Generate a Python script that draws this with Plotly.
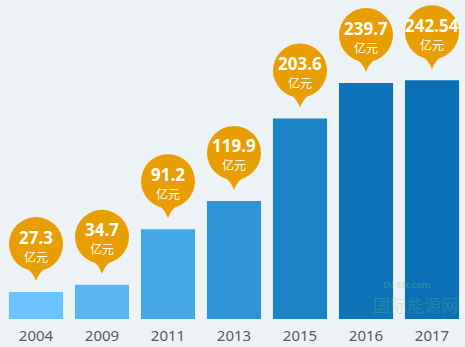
import plotly.graph_objects as go

# Annual market size (亿元)
years = ["2004", "2009", "2011", "2013", "2015", "2016", "2017"]
values = [27.3, 34.7, 91.2, 119.9, 203.6, 239.7, 242.54]
value_labels = ["27.3", "34.7", "91.2", "119.9", "203.6", "239.7", "242.54"]
unit_label = "亿元"
bar_colors = ["#6BC3FF", "#58B5F0", "#45A6E6", "#2E94D6", "#1B84C6", "#0C73B8", "#0A70B5"]

BG = "#EDF2F6"
PIN = "#E99E00"

fig = go.Figure(
    go.Bar(
        x=years,
        y=values,
        marker=dict(color=bar_colors, line=dict(width=0)),
        hoverinfo="skip",
    )
)

# Map-pin style value badges: circle + pointer, sized in pixels and anchored on each bar top
pin_r = 27
pin_cy = 48
tip_y = 11
shapes = []
annotations = []
for i, (yr, v, lab) in enumerate(zip(years, values, value_labels)):
    shapes.append(dict(
        type="circle", xref="x", yref="y",
        xsizemode="pixel", ysizemode="pixel",
        xanchor=i, yanchor=v,
        x0=-pin_r, x1=pin_r, y0=pin_cy - pin_r, y1=pin_cy + pin_r,
        fillcolor=PIN, line=dict(width=0), layer="above",
    ))
    shapes.append(dict(
        type="path", xref="x", yref="y",
        xsizemode="pixel", ysizemode="pixel",
        xanchor=i, yanchor=v,
        path=f"M -12,{pin_cy - 22} Q -3,{tip_y + 9} 0,{tip_y} Q 3,{tip_y + 9} 12,{pin_cy - 22} Z",
        fillcolor=PIN, line=dict(width=0), layer="above",
    ))
    annotations.append(dict(
        x=i, y=v, xref="x", yref="y", text=f"<b>{lab}</b>",
        showarrow=False, yanchor="middle", yshift=55,
        font=dict(family="Open Sans, Noto Sans, sans-serif", size=17, color="white"),
    ))
    annotations.append(dict(
        x=i, y=v, xref="x", yref="y", text=unit_label,
        showarrow=False, yanchor="middle", yshift=36,
        font=dict(family="Noto Sans CJK SC, sans-serif", size=12, color="white"),
    ))

# faint site mark in the lower right corner, kept above the axis labels
annotations.append(dict(
    x=0.93, y=0.082, xref="paper", yref="paper", text="<b>IN-EN.com</b>",
    showarrow=False, xanchor="right", yanchor="bottom",
    font=dict(family="Noto Sans, sans-serif", size=9, color="rgba(120,200,110,0.3)"),
))
annotations.append(dict(
    x=0.99, y=0.0, xref="paper", yref="paper", text="国际能源网",
    showarrow=False, xanchor="right", yanchor="bottom",
    font=dict(family="Noto Sans CJK SC, sans-serif", size=17, color="rgba(120,200,110,0.25)"),
))

fig.update_layout(
    width=465, height=347,
    margin=dict(l=3, r=0, t=0, b=28),
    paper_bgcolor=BG, plot_bgcolor=BG,
    bargap=0.18,
    showlegend=False,
    shapes=shapes,
    annotations=annotations,
    xaxis=dict(
        type="category", range=[-0.5, len(years) - 0.5],
        showgrid=False, zeroline=False, showline=False, fixedrange=True,
        ticks="", ticklabelstandoff=6,
        tickfont=dict(family="Noto Sans, sans-serif", size=15, color="#5A5A5A"),
    ),
    yaxis=dict(range=[0, 324], visible=False, fixedrange=True),
)

fig.write_html("out.html")
